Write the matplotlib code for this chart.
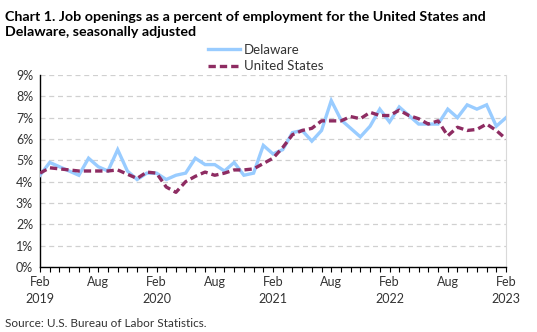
import matplotlib
matplotlib.use("Agg")
import matplotlib.pyplot as plt
from matplotlib.ticker import FixedLocator, MultipleLocator, FuncFormatter

plt.rcParams['font.family'] = ['Lato', 'DejaVu Sans']

# Monthly job openings rate, Feb 2019 - Feb 2023
delaware = [4.3, 4.9, 4.7, 4.5, 4.3, 5.1, 4.7, 4.5, 5.5, 4.5, 4.1, 4.4,
            4.4, 4.1, 4.3, 4.4, 5.1, 4.8, 4.8, 4.5, 4.9, 4.3, 4.4, 5.7,
            5.3, 5.5, 6.3, 6.4, 5.9, 6.4, 7.8, 6.9, 6.5, 6.1, 6.6, 7.4,
            6.8, 7.5, 7.1, 6.7, 6.7, 6.7, 7.4, 7.0, 7.6, 7.4, 7.6, 6.6,
            7.0]
united_states = [4.4, 4.65, 4.6, 4.55, 4.5, 4.5, 4.5, 4.5, 4.55, 4.35, 4.15, 4.45,
                 4.4, 3.75, 3.5, 4.0, 4.25, 4.45, 4.3, 4.4, 4.55, 4.55, 4.6, 4.85,
                 5.1, 5.6, 6.2, 6.4, 6.5, 6.85, 6.85, 6.85, 7.05, 6.95, 7.25, 7.1,
                 7.1, 7.35, 7.1, 6.95, 6.7, 6.85, 6.15, 6.55, 6.4, 6.45, 6.7, 6.4,
                 6.0]
tick_labels = ["Feb\n2019", "Aug", "Feb\n2020", "Aug", "Feb\n2021", "Aug",
               "Feb\n2022", "Aug", "Feb\n2023"]

months = list(range(len(delaware)))

fig = plt.figure(figsize=(5.37, 3.32), dpi=100)
ax = fig.add_axes([0.0745, 0.1958, 0.8678, 0.5783])

ax.plot(months, delaware, color="#99CCFF", lw=2.4, label="Delaware",
        solid_joinstyle="miter", zorder=3)
ax.plot(months, united_states, color="#8E2C62", lw=2.4, ls=(0, (2.2, 1.2)),
        label="United States", zorder=4)

ax.set_xlim(0, len(delaware) - 1)
ax.set_ylim(0, 9)
ax.yaxis.set_major_locator(FixedLocator(list(range(10))))
ax.yaxis.set_major_formatter(FuncFormatter(lambda v, _: f"{v:.0f}%"))
ax.xaxis.set_major_locator(FixedLocator(list(range(0, len(delaware), 6))))
ax.xaxis.set_minor_locator(MultipleLocator(1))
ax.set_xticklabels(tick_labels)

ax.grid(axis="y", color="#D0D0D0", ls=(0, (4, 3)), lw=0.9)
ax.set_axisbelow(True)

ax.spines["top"].set_visible(False)
ax.spines["right"].set_color("#D9D9D9")
ax.spines["left"].set_color("black")
ax.spines["bottom"].set_color("black")
ax.spines["left"].set_linewidth(1.0)
ax.spines["bottom"].set_linewidth(1.0)

ax.tick_params(axis="x", which="both", direction="out", length=3.5, width=0.8,
               labelsize=9, colors="black", pad=3)
ax.tick_params(axis="x", which="major", labelcolor="#333333")
ax.tick_params(axis="y", length=0, labelsize=9, labelcolor="#333333", pad=5)
for lbl in ax.get_xticklabels():
    lbl.set_linespacing(1.45)

fig.text(0.009, 0.968, "Chart 1. Job openings as a percent of employment for the United States and\nDelaware, seasonally adjusted",
         fontsize=10.3, fontweight="bold", va="top", ha="left", linespacing=1.35)

leg = fig.legend(loc="center", bbox_to_anchor=(0.495, 0.825), ncol=1, frameon=False,
                 fontsize=9.5, handlelength=2.4, handletextpad=0.35,
                 labelspacing=0.35, borderpad=0)
for t in leg.get_texts():
    t.set_color("#333333")

fig.text(0.009, 0.027, "Source: U.S. Bureau of Labor Statistics.", fontsize=8.5,
         color="#333333", va="center", ha="left")

fig.savefig("out.png", dpi=100)
